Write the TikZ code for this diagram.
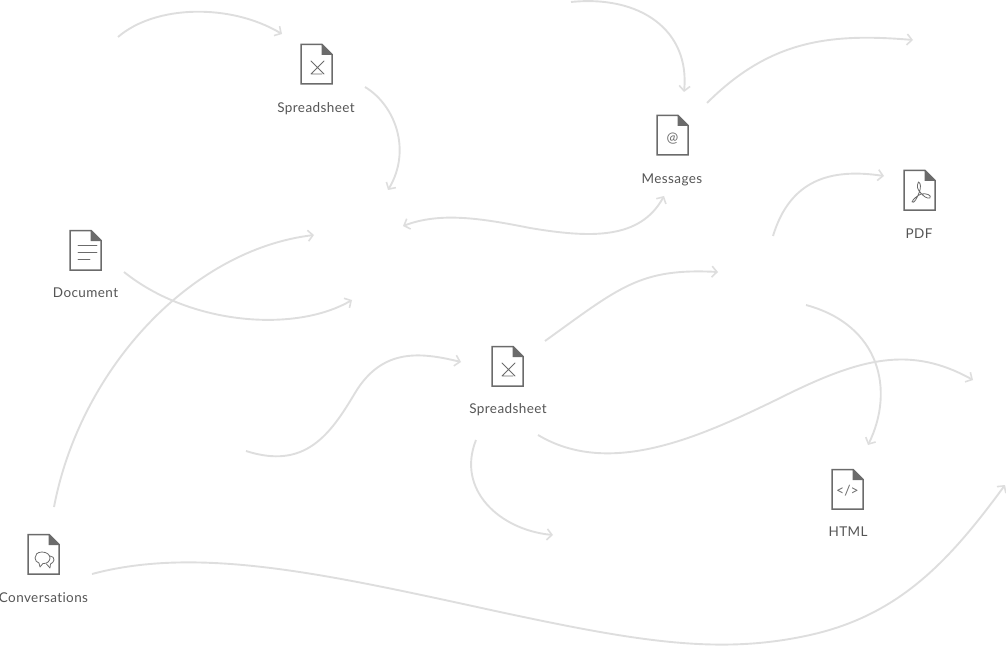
\documentclass[tikz,border=0pt]{standalone}
\usepackage{fontspec}
\setmainfont{Lato}[LetterSpace=3,Ligatures=NoCommon]
\newfontfamily\glyphfont{Lato}
\usetikzlibrary{arrows.meta}
\definecolor{flow}{HTML}{DEDEDE}
\definecolor{ink}{HTML}{6B6B6B}
\definecolor{labelc}{HTML}{555555}
\tikzset{
  x=1pt,y=-1pt,
  flowline/.style={draw=flow,line width=1.9pt,-{Straight Barb[length=5pt,width=11pt,line width=1.6pt]}},
  flowboth/.style={draw=flow,line width=1.9pt,{Straight Barb[length=5pt,width=11pt,line width=1.6pt]}-{Straight Barb[length=5pt,width=11pt,line width=1.6pt]}},
  filelabel/.style={text=labelc,font=\fontsize{13.5}{15}\selectfont,inner sep=0pt,anchor=base},
  glyph/.style={draw=ink,line width=0.8pt,line cap=round,line join=round},
  pics/filebody/.style={code={
    \draw[draw=ink,line width=1.5pt,line join=miter] (-15.5,-19.5) -- (5.5,-19.5) -- (15.5,-9.5) -- (15.5,20) -- (-15.5,20) -- cycle;
    \fill[ink] (5,-20.2) -- (16.2,-9) -- (5,-9) -- cycle;
  }},
}
\begin{document}
\begin{tikzpicture}
\useasboundingbox (0,0) rectangle (1006,647);
% end points of connectors
\foreach \n/\x/\y in {a1/118/37,a2/282/34,b1/365/87,b2/388/190,c1/403/226,c2/664/196,d1/571/2,d2/684/92,e1/707/103,e2/913/40,f1/773/236,f2/884/176,g1/124/272,g2/352/300,h1/54/507,h2/314/235,i1/246/451,i2/461/362,j1/545/341,j2/718/272,k1/806/305,k2/868/445,l1/538/435,l2/973/380,m1/476/440,m2/553/535,n1/92/574,n2/1005/485}
  \coordinate (\n) at (\x,\y);
% connectors
\draw[flowline] (a1) .. controls (155,5) and (230,3) .. (a2);
\draw[flowline] (b1) .. controls (395,105) and (412,150) .. (b2);
\draw[flowboth] (c1) .. controls (440,212) and (480,218) .. (530,228) .. controls (590,238) and (640,240) .. (c2);
\draw[flowline] (d1) .. controls (640,-5) and (690,30) .. (d2);
\draw[flowline] (e1) .. controls (770,40) and (830,33) .. (e2);
\draw[flowline] (f1) .. controls (790,180) and (830,168) .. (f2);
\draw[flowline] (g1) .. controls (190,325) and (295,333) .. (g2);
\draw[flowline] (h1) .. controls (80,370) and (190,250) .. (h2);
\draw[flowline] (i1) .. controls (305,470) and (330,435) .. (355,393) .. controls (382,348) and (420,352) .. (i2);
\draw[flowline] (j1) .. controls (620,287) and (640,268) .. (j2);
\draw[flowline] (k1) .. controls (880,325) and (895,390) .. (k2);
\draw[flowline] (l1) .. controls (610,478) and (700,437) .. (780,398) .. controls (860,358) and (910,345) .. (l2);
\draw[flowline] (m1) .. controls (456,490) and (500,530) .. (m2);
\draw[flowline] (n1) .. controls (200,545) and (330,575) .. (500,612) .. controls (640,642) and (720,655) .. (810,635) .. controls (900,615) and (950,560) .. (n2);
% icons and labels
\pic at (316.5,64) {filebody};
\draw[glyph] (311,61) -- (324,74) (324,61) -- (311,74) -- (322,74);
\node[filelabel] (sheet1) at (316,112.5) {Spreadsheet};
\pic at (672.5,135) {filebody};
\node[text=ink,font=\glyphfont\fontsize{14}{14}\selectfont,inner sep=0pt] (at) at (672.5,138.5) {@};
\node[filelabel] (msg) at (672,183.5) {Messages};
\pic at (919.5,190) {filebody};
\draw[glyph] (918.5,182) .. controls (916,186) and (918,190) .. (920,192) .. controls (923,196) and (927,199) .. (930,198) .. controls (932,195) and (926,193) .. (921,194) .. controls (917,196) and (913,199) .. (912,202) .. controls (914,204) and (917,198) .. (919,193) .. controls (921,188) and (921,183) .. (918.5,182);
\node[filelabel] (pdf) at (919,238) {PDF};
\pic at (85.5,250) {filebody};
\draw[glyph] (78,245) -- (97,245) (78,252) -- (97,252) (78,259) -- (90,259);
\node[filelabel] (doc) at (85.5,297) {Document};
\pic at (507.5,366) {filebody};
\draw[glyph] (502,363) -- (515,376) (515,363) -- (502,376) -- (513,376);
\node[filelabel] (sheet2) at (508,413) {Spreadsheet};
\pic at (43.5,554) {filebody};
\draw[glyph] (42,552) .. controls (37,552) and (35,555) .. (35,558) .. controls (35,561) and (37,562) .. (39,563) -- (40,567) -- (43,563.5) .. controls (47,564) and (50,561) .. (50,558) .. controls (50,555) and (47,552) .. (42,552);
\draw[glyph] (50,556) .. controls (53,556) and (54,558) .. (54,560) .. controls (54,562) and (52,563) .. (50.5,564) -- (50,568) -- (46.5,564);
\node[filelabel] (conv) at (43.5,602) {Conversations};
\pic at (847.5,489) {filebody};
\node[text=ink,font=\glyphfont\fontsize{14}{14}\selectfont,inner sep=0pt] (tag) at (847.5,491) {</>};
\node[filelabel] (html) at (848,536) {HTML};
\end{tikzpicture}
\end{document}
